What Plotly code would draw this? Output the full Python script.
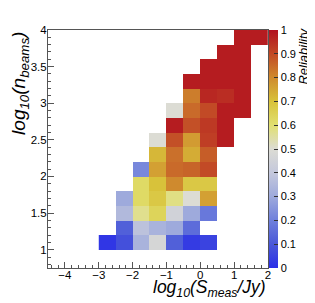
import plotly.graph_objects as go

# bin centres
x_centers = [-2.75, -2.25, -1.75, -1.25, -0.75, -0.25, 0.25, 0.75, 1.25, 1.75]
y_centers = [1.1, 1.3, 1.5, 1.7, 1.9, 2.1, 2.3, 2.5, 2.7, 2.9, 3.1, 3.3, 3.5, 3.7, 3.9]
N = None
# reliability per bin, rows bottom -> top
row_1_1 = [0.02, 0.08, 0.33, 0.47, 0.12, 0.03, 0.05, N, N, N]
row_1_3 = [N, 0.12, 0.38, 0.33, 0.30, 0.15, N, N, N, N]
row_1_5 = [N, 0.35, 0.57, 0.64, 0.45, 0.30, 0.18, N, N, N]
row_1_7 = [N, 0.30, 0.62, 0.68, 0.58, 0.50, 0.76, N, N, N]
row_1_9 = [N, N, 0.62, 0.70, 0.80, 0.68, 0.68, N, N, N]
row_2_1 = [N, N, 0.22, 0.76, 0.85, 0.86, 0.90, N, N, N]
row_2_3 = [N, N, N, 0.72, 0.84, 0.74, 0.87, N, N, N]
row_2_5 = [N, N, N, 0.50, 0.89, 0.77, 0.92, 0.98, N, N]
row_2_7 = [N, N, N, N, 0.98, 0.89, 0.93, 0.98, N, N]
row_2_9 = [N, N, N, N, 0.50, 0.85, 0.90, 0.98, 0.98, N]
row_3_1 = [N, N, N, N, N, 0.82, 0.96, 0.95, 0.98, N]
row_3_3 = [N, N, N, N, N, 0.98, 0.98, 0.98, 0.98, N]
row_3_5 = [N, N, N, N, N, N, 0.98, 0.98, 0.98, N]
row_3_7 = [N, N, N, N, N, N, N, 0.98, 0.98, N]
row_3_9 = [N, N, N, N, N, N, N, N, 0.98, 0.98]

z = [row_1_1, row_1_3, row_1_5, row_1_7, row_1_9, row_2_1, row_2_3, row_2_5,
     row_2_7, row_2_9, row_3_1, row_3_3, row_3_5, row_3_7, row_3_9]

colorscale = [
    [0.0, "#2a2ee8"],
    [0.1, "#4a58d8"],
    [0.2, "#6f80dc"],
    [0.3, "#9eaadc"],
    [0.4, "#c4c8dc"],
    [0.5, "#dcdcd4"],
    [0.6, "#e1e070"],
    [0.7, "#d8c23a"],
    [0.8, "#cf8a2e"],
    [0.9, "#c24a26"],
    [1.0, "#b2101f"],
]

fig = go.Figure(go.Heatmap(
    x=x_centers, y=y_centers, z=z, zmin=0, zmax=1,
    colorscale=colorscale, hoverongaps=False,
    colorbar=dict(
        x=1.0, xanchor="left", xpad=1, y=0.5, yanchor="middle",
        len=1, lenmode="fraction", thickness=9, thicknessmode="pixels",
        outlinewidth=0, ypad=0,
        tickvals=[0, 0.1, 0.2, 0.3, 0.4, 0.5, 0.6, 0.7, 0.8, 0.9, 1],
        ticktext=["0", "0.1", "0.2", "0.3", "0.4", "0.5", "0.6", "0.7", "0.8", "0.9", "1"],
        ticks="inside", ticklen=4, tickcolor="#333", tickwidth=1,
        tickfont=dict(family="Liberation Sans", size=11, color="#000"),
    ),
))

axis_common = dict(
    showline=True, mirror=True, linecolor="#555", linewidth=1,
    showgrid=False, zeroline=False, automargin=False,
    ticks="inside", ticklen=6, tickcolor="#555",
    tickfont=dict(family="Liberation Sans", size=11.5, color="#000"),
)

fig.update_xaxes(range=[-4.5, 2], tickvals=[-4, -3, -2, -1, 0, 1, 2],
                 ticklabelstandoff=-4,
                 minor=dict(ticks="inside", ticklen=3, dtick=0.2, tick0=0, tickcolor="#555"),
                 **axis_common)
fig.update_yaxes(range=[0.75, 4], tickvals=[1, 1.5, 2, 2.5, 3, 3.5, 4],
                 ticktext=["1", "1.5", "2", "2.5", "3", "3.5", "4"],
                 ticklabelstandoff=-2,
                 minor=dict(ticks="inside", ticklen=3, dtick=0.1, tick0=0, tickcolor="#555"),
                 **axis_common)

fig.add_annotation(xref="paper", yref="paper", x=1.0, y=-0.143, xanchor="right", yanchor="bottom",
                   text="<i>log<sub>10</sub>(S<sub>meas</sub>/Jy)</i>", showarrow=False,
                   font=dict(family="Liberation Sans", size=17.5, color="#000"))
fig.add_annotation(xref="paper", yref="paper", x=-0.13, y=1.0, xanchor="center", yanchor="top",
                   text="<i>log<sub>10</sub>(n<sub>beams</sub>)</i>", textangle=-90, showarrow=False,
                   font=dict(family="Liberation Sans", size=19, color="#000"))
fig.add_annotation(xref="paper", yref="paper", x=1.163, y=1.02, xanchor="center", yanchor="top",
                   text="<i>Reliability</i>", textangle=-90, showarrow=False,
                   font=dict(family="Liberation Sans", size=13, color="#000"))

# the page body adds an 8px offset, so margins are shifted to keep the plot in place
fig.update_layout(
    width=315, height=303,
    margin=dict(l=40, r=55, t=22, b=43, autoexpand=False),
    paper_bgcolor="white", plot_bgcolor="white",
)

fig.write_html("out.html")
